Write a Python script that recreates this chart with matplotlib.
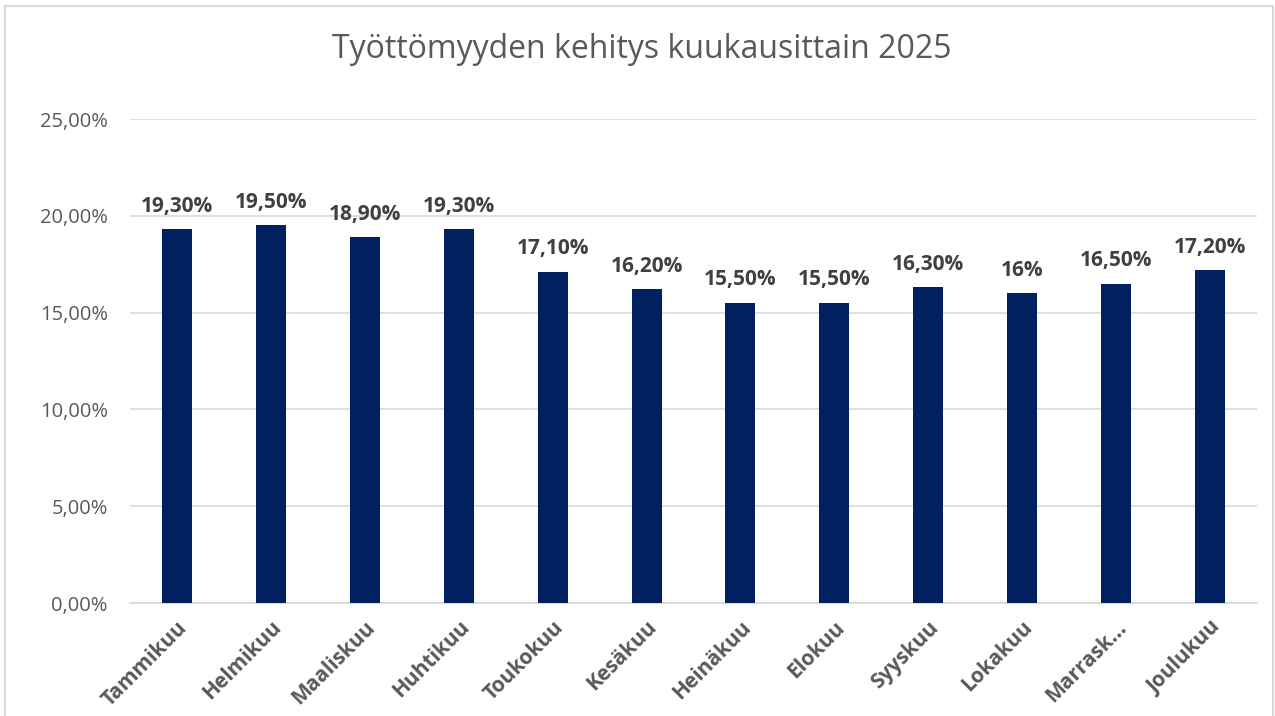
import matplotlib.pyplot as plt
from matplotlib.patches import Rectangle

months = ['Tammikuu', 'Helmikuu', 'Maaliskuu', 'Huhtikuu', 'Toukokuu', 'Kesäkuu',
          'Heinäkuu', 'Elokuu', 'Syyskuu', 'Lokakuu', 'Marrask...', 'Joulukuu']
values = [19.3, 19.5, 18.9, 19.3, 17.1, 16.2, 15.5, 15.5, 16.3, 16.0, 16.5, 17.2]
labels = ['19,30%', '19,50%', '18,90%', '19,30%', '17,10%', '16,20%',
          '15,50%', '15,50%', '16,30%', '16%', '16,50%', '17,20%']
yticks = [0, 5, 10, 15, 20, 25]
ytick_labels = ['0,00%', '5,00%', '10,00%', '15,00%', '20,00%', '25,00%']

plt.rcParams['font.family'] = ['Open Sans', 'DejaVu Sans']
gray = '#595959'

fig = plt.figure(figsize=(12.75, 7.16), dpi=100)
ax = fig.add_axes([130 / 1275, 1 - 603 / 716, 1127 / 1275, 484 / 716])

x = list(range(len(months)))
ax.bar(x, values, width=0.32, color='#002060', zorder=3)
for xi, v, lab in zip(x, values, labels):
    ax.annotate(lab, (xi, v), xytext=(0, 9), textcoords='offset points',
                ha='center', va='bottom', fontsize=15, fontweight='bold', color='#404040')

ax.set_xlim(-0.5, len(months) - 0.5)
ax.set_ylim(0, 25)
ax.set_yticks(yticks)
ax.set_yticklabels(ytick_labels, fontsize=14.5, color=gray)
ax.set_xticks(x)
ax.set_xticklabels(months, rotation=45, ha='right', rotation_mode='anchor',
                   fontsize=15, fontweight='bold', color=gray)
ax.tick_params(axis='both', length=0)
ax.tick_params(axis='y', pad=16)
ax.tick_params(axis='x', pad=10)
ax.grid(axis='y', color='#d9d9d9', linewidth=1.2, zorder=0)
for s in ['top', 'right', 'left']:
    ax.spines[s].set_visible(False)
ax.spines['bottom'].set_color('#d9d9d9')
ax.spines['bottom'].set_linewidth(1.2)

fig.text(0.503, 1 - 50 / 716, 'Työttömyyden kehitys kuukausittain 2025',
         ha='center', va='center', fontsize=23, color=gray)

fig.patches.append(Rectangle((5 / 1275, -0.05), 1268 / 1275, 1.05 - 6 / 716,
                             transform=fig.transFigure, fill=False,
                             edgecolor='#d9d9d9', linewidth=1.5))

fig.savefig('out.png', dpi=100)
